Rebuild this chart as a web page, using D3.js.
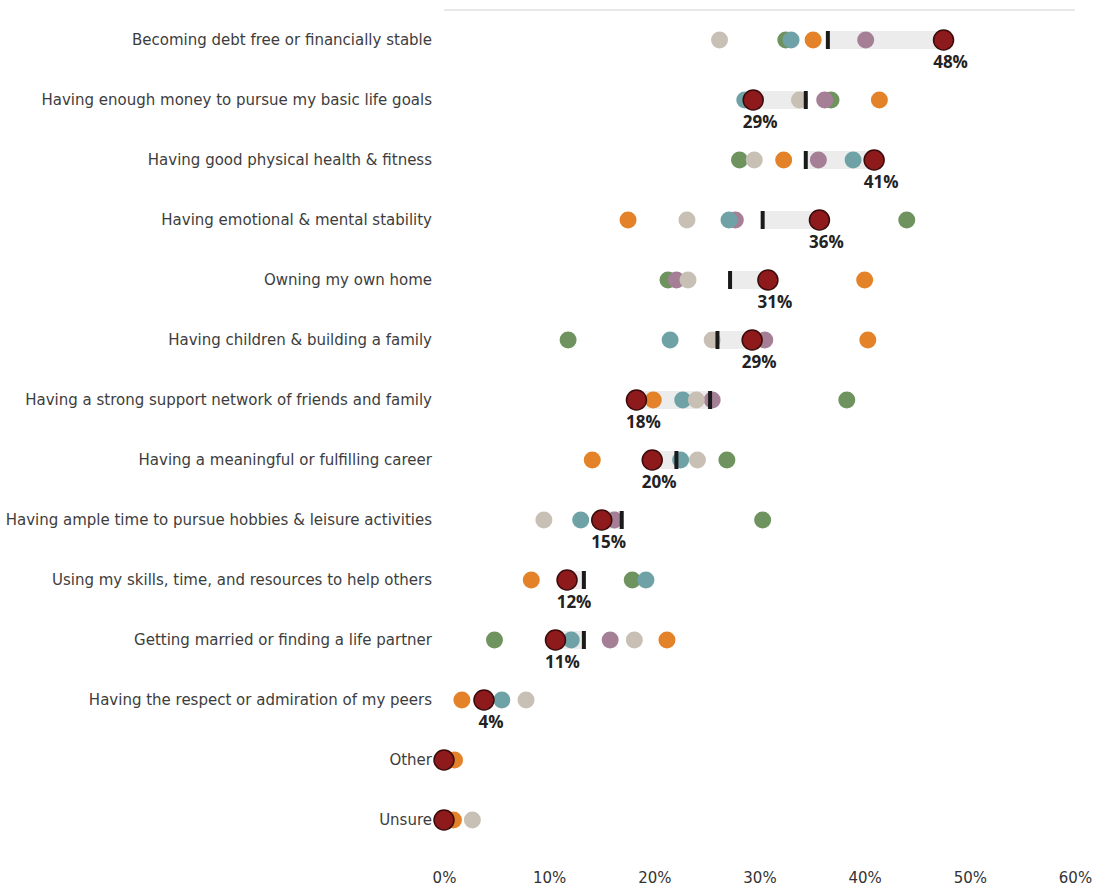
<!DOCTYPE html>
<html>
<head>
<meta charset="utf-8">
<script src="https://cdn.jsdelivr.net/npm/d3@7/dist/d3.min.js"></script>
<style>
  body { margin: 0; background: #fff; }
  svg { display: block; }
  .cat { font-family: "DejaVu Sans", sans-serif; font-size: 15px; fill: #3d3d3d; }
  .pct { font-family: "Open Sans", sans-serif; font-size: 17px; font-weight: 700; fill: #222; }
  .axis text { font-family: "DejaVu Sans", sans-serif; font-size: 15px; fill: #333; }
</style>
</head>
<body>
<svg width="1094" height="888"></svg>
<script>
// categories, top to bottom
var categories = [
  "Becoming debt free or financially stable",
  "Having enough money to pursue my basic life goals",
  "Having good physical health & fitness",
  "Having emotional & mental stability",
  "Owning my own home",
  "Having children & building a family",
  "Having a strong support network of friends and family",
  "Having a meaningful or fulfilling career",
  "Having ample time to pursue hobbies & leisure activities",
  "Using my skills, time, and resources to help others",
  "Getting married or finding a life partner",
  "Having the respect or admiration of my peers",
  "Other",
  "Unsure"
];

// highlighted group (dark red dot, labelled)
var highlight = [47.5, 29.4, 40.9, 35.7, 30.8, 29.3, 18.3, 19.8, 15.0, 11.7, 10.6, 3.8, 0, 0];
// benchmark (black tick)
var benchmark = [36.5, 34.4, 34.4, 30.3, 27.2, 26.0, 25.3, 22.1, 16.9, 13.3, 13.3, null, null, null];
// other groups
var beige  = [26.2, 33.8, 29.5, 23.1, 23.2, 25.5, 24.0, 24.1, 9.5, null, 18.1, 7.8, null, 2.7];
var teal   = [33.0, 28.6, 38.9, 27.1, null, 21.5, 22.7, 22.5, 13.0, 19.2, 12.1, 5.5, null, null];
var orange = [35.1, 41.4, 32.3, 17.5, 40.0, 40.3, 19.9, 14.1, null, 8.3, 21.2, 1.7, 1.0, 0.9];
var mauve  = [40.1, 36.2, 35.6, 27.7, 22.1, 30.5, 25.5, null, 16.2, null, 15.8, null, null, null];
var green  = [32.5, 36.8, 28.1, 44.0, 21.3, 11.8, 38.3, 26.9, 30.3, 17.9, 4.8, null, null, null];

var tickValues = [0, 10, 20, 30, 40, 50, 60];

var svg = d3.select("svg");

var x = d3.scaleLinear().domain([0, 60]).range([444, 1075]);
var y = d3.scalePoint().domain(categories).range([40, 820]);

// top rule
svg.append("line")
  .attr("x1", x(0)).attr("x2", x(60))
  .attr("y1", 10).attr("y2", 10)
  .attr("stroke", "#e0e0e0").attr("stroke-width", 1.5);

// category labels
svg.append("g").selectAll("text")
  .data(categories)
  .enter().append("text")
  .attr("class", "cat")
  .attr("x", 432)
  .attr("y", function(d) { return y(d); })
  .attr("dy", "0.35em")
  .attr("text-anchor", "end")
  .text(function(d) { return d; });

// x axis
var axis = svg.append("g")
  .attr("class", "axis")
  .attr("transform", "translate(0,869)")
  .call(d3.axisBottom(x).tickValues(tickValues).tickSize(0).tickFormat(function(d) { return d + "%"; }));
axis.select(".domain").remove();

var rows = categories.map(function(c, i) {
  return { cat: c, hi: highlight[i], bm: benchmark[i] };
});

// grey band between benchmark and highlight
svg.append("g").selectAll("rect")
  .data(rows.filter(function(d) { return d.bm != null; }))
  .enter().append("rect")
  .attr("x", function(d) { return x(Math.min(d.hi, d.bm)); })
  .attr("width", function(d) { return Math.abs(x(d.hi) - x(d.bm)); })
  .attr("y", function(d) { return y(d.cat) - 9; })
  .attr("height", 18)
  .attr("fill", "#ececec");

// other group dots
var groups = [
  { vals: green,  color: "#6e935f" },
  { vals: mauve,  color: "#a57f96" },
  { vals: teal,   color: "#6fa2a7" },
  { vals: beige,  color: "#c8c0b5" },
  { vals: orange, color: "#e4822a" }
];
groups.forEach(function(g) {
  svg.append("g").selectAll("circle")
    .data(categories.map(function(c, i) { return { cat: c, v: g.vals[i] }; })
      .filter(function(d) { return d.v != null; }))
    .enter().append("circle")
    .attr("cx", function(d) { return x(d.v); })
    .attr("cy", function(d) { return y(d.cat); })
    .attr("r", 8.5)
    .attr("fill", g.color);
});

// benchmark tick
svg.append("g").selectAll("rect")
  .data(rows.filter(function(d) { return d.bm != null; }))
  .enter().append("rect")
  .attr("x", function(d) { return x(d.bm) - 2; })
  .attr("width", 4)
  .attr("y", function(d) { return y(d.cat) - 9; })
  .attr("height", 18)
  .attr("fill", "#1a1a1a");

// highlight dots
svg.append("g").selectAll("circle")
  .data(rows)
  .enter().append("circle")
  .attr("cx", function(d) { return x(d.hi); })
  .attr("cy", function(d) { return y(d.cat); })
  .attr("r", 10)
  .attr("fill", "#8e1a1c")
  .attr("stroke", "#3b0b0c")
  .attr("stroke-width", 1.5);

// percentage labels (not for Other / Unsure)
svg.append("g").selectAll("text")
  .data(rows.filter(function(d) { return d.hi > 0; }))
  .enter().append("text")
  .attr("class", "pct")
  .attr("x", function(d) { return x(d.hi) + 7; })
  .attr("y", function(d) { return y(d.cat) + 28; })
  .attr("text-anchor", "middle")
  .text(function(d) { return Math.round(d.hi) + "%"; });
</script>
</body>
</html>
